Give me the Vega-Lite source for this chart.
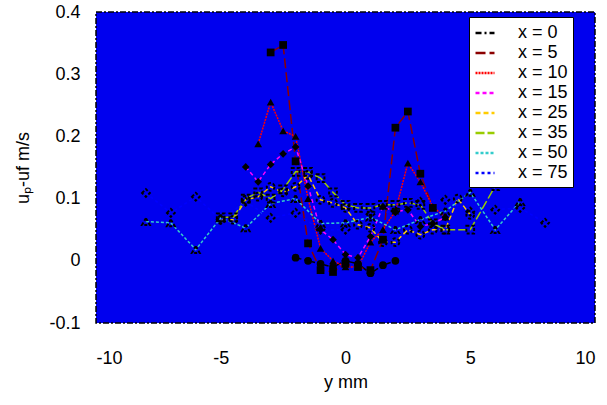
{
  "$schema": "https://vega.github.io/schema/vega-lite/v6.json",
  "width": 499,
  "height": 311,
  "autosize": {"type": "none"},
  "padding": {"left": 96, "top": 12, "right": 12, "bottom": 82},
  "config": {
    "view": {"fill": "#0000EE", "stroke": "black", "strokeDash": [6, 2, 2, 2], "strokeWidth": 1.5},
    "font": "Liberation Sans",
    "axis": {"grid": false, "ticks": false, "domain": false, "labelFont": "Liberation Sans", "titleFont": "Liberation Sans", "labelFontSize": 18, "titleFontSize": 18, "labelColor": "black", "titleColor": "black", "titleFontWeight": "normal"},
    "legend": {"labelFont": "Liberation Sans"}
  },
  "resolve": {"legend": {"shape": "independent"}, "scale": {"shape": "independent"}},
  "datasets": {
    "pts": [
      {"series": "x = 0", "pos": -2, "val": 0.005},
      {"series": "x = 0", "pos": -1.5, "val": 0.0},
      {"series": "x = 0", "pos": -1, "val": -0.005},
      {"series": "x = 0", "pos": -0.5, "val": -0.01},
      {"series": "x = 0", "pos": 0, "val": 0.0},
      {"series": "x = 0", "pos": 0.5, "val": -0.005},
      {"series": "x = 0", "pos": 1, "val": -0.02},
      {"series": "x = 0", "pos": 1.5, "val": -0.007},
      {"series": "x = 0", "pos": 2, "val": 0.0},

      {"series": "x = 5", "pos": -3, "val": 0.335},
      {"series": "x = 5", "pos": -2.5, "val": 0.347},
      {"series": "x = 5", "pos": -2, "val": 0.16},
      {"series": "x = 5", "pos": -1.5, "val": 0.028},
      {"series": "x = 5", "pos": -1, "val": -0.015},
      {"series": "x = 5", "pos": -0.5, "val": -0.018},
      {"series": "x = 5", "pos": 0, "val": -0.005},
      {"series": "x = 5", "pos": 0.5, "val": -0.01},
      {"series": "x = 5", "pos": 1, "val": -0.015},
      {"series": "x = 5", "pos": 1.5, "val": 0.034},
      {"series": "x = 5", "pos": 2, "val": 0.214},
      {"series": "x = 5", "pos": 2.5, "val": 0.24},
      {"series": "x = 5", "pos": 3, "val": 0.14},
      {"series": "x = 5", "pos": 3.5, "val": 0.085},

      {"series": "x = 10", "pos": -3.5, "val": 0.188},
      {"series": "x = 10", "pos": -3, "val": 0.255},
      {"series": "x = 10", "pos": -2.5, "val": 0.209},
      {"series": "x = 10", "pos": -2, "val": 0.2},
      {"series": "x = 10", "pos": -1.5, "val": 0.1},
      {"series": "x = 10", "pos": -1, "val": 0.02},
      {"series": "x = 10", "pos": -0.5, "val": 0.0},
      {"series": "x = 10", "pos": 0, "val": -0.01},
      {"series": "x = 10", "pos": 0.5, "val": -0.01},
      {"series": "x = 10", "pos": 1, "val": 0.03},
      {"series": "x = 10", "pos": 1.5, "val": 0.05},
      {"series": "x = 10", "pos": 2, "val": 0.08},
      {"series": "x = 10", "pos": 2.5, "val": 0.157},
      {"series": "x = 10", "pos": 3, "val": 0.127},
      {"series": "x = 10", "pos": 3.5, "val": 0.087},
      {"series": "x = 10", "pos": 4, "val": 0.07},

      {"series": "x = 15", "pos": -4, "val": 0.151},
      {"series": "x = 15", "pos": -3.5, "val": 0.127},
      {"series": "x = 15", "pos": -3, "val": 0.155},
      {"series": "x = 15", "pos": -2.5, "val": 0.172},
      {"series": "x = 15", "pos": -2, "val": 0.183},
      {"series": "x = 15", "pos": -1.5, "val": 0.12},
      {"series": "x = 15", "pos": -1, "val": 0.05},
      {"series": "x = 15", "pos": -0.5, "val": 0.034},
      {"series": "x = 15", "pos": 0, "val": 0.01},
      {"series": "x = 15", "pos": 0.5, "val": 0.005},
      {"series": "x = 15", "pos": 1, "val": 0.039},
      {"series": "x = 15", "pos": 1.5, "val": 0.087},
      {"series": "x = 15", "pos": 2, "val": 0.079},
      {"series": "x = 15", "pos": 2.5, "val": 0.082},
      {"series": "x = 15", "pos": 3, "val": 0.055},
      {"series": "x = 15", "pos": 3.5, "val": 0.06},
      {"series": "x = 15", "pos": 4, "val": 0.07},

      {"series": "x = 25", "pos": -5, "val": 0.066},
      {"series": "x = 25", "pos": -4.5, "val": 0.066},
      {"series": "x = 25", "pos": -4, "val": 0.098},
      {"series": "x = 25", "pos": -3.5, "val": 0.103},
      {"series": "x = 25", "pos": -3, "val": 0.119},
      {"series": "x = 25", "pos": -2.5, "val": 0.11},
      {"series": "x = 25", "pos": -2, "val": 0.119},
      {"series": "x = 25", "pos": -1.5, "val": 0.138},
      {"series": "x = 25", "pos": -1, "val": 0.098},
      {"series": "x = 25", "pos": -0.5, "val": 0.093},
      {"series": "x = 25", "pos": 0, "val": 0.085},
      {"series": "x = 25", "pos": 0.5, "val": 0.058},
      {"series": "x = 25", "pos": 1, "val": 0.053},
      {"series": "x = 25", "pos": 1.5, "val": 0.03},
      {"series": "x = 25", "pos": 2, "val": 0.03},
      {"series": "x = 25", "pos": 2.5, "val": 0.05},
      {"series": "x = 25", "pos": 3, "val": 0.042},
      {"series": "x = 25", "pos": 3.5, "val": 0.05},
      {"series": "x = 25", "pos": 4, "val": 0.05},
      {"series": "x = 25", "pos": 4.5, "val": 0.1},
      {"series": "x = 25", "pos": 5, "val": 0.074},

      {"series": "x = 35", "pos": -5, "val": 0.07},
      {"series": "x = 35", "pos": -4.5, "val": 0.07},
      {"series": "x = 35", "pos": -4, "val": 0.1},
      {"series": "x = 35", "pos": -3.5, "val": 0.11},
      {"series": "x = 35", "pos": -3, "val": 0.1},
      {"series": "x = 35", "pos": -2.5, "val": 0.115},
      {"series": "x = 35", "pos": -2, "val": 0.143},
      {"series": "x = 35", "pos": -1.5, "val": 0.143},
      {"series": "x = 35", "pos": -1, "val": 0.133},
      {"series": "x = 35", "pos": -0.5, "val": 0.11},
      {"series": "x = 35", "pos": 0, "val": 0.09},
      {"series": "x = 35", "pos": 0.5, "val": 0.085},
      {"series": "x = 35", "pos": 1, "val": 0.085},
      {"series": "x = 35", "pos": 1.5, "val": 0.09},
      {"series": "x = 35", "pos": 2, "val": 0.09},
      {"series": "x = 35", "pos": 2.5, "val": 0.093},
      {"series": "x = 35", "pos": 3, "val": 0.09},
      {"series": "x = 35", "pos": 3.5, "val": 0.06},
      {"series": "x = 35", "pos": 4, "val": 0.05},
      {"series": "x = 35", "pos": 5, "val": 0.05},
      {"series": "x = 35", "pos": 6, "val": 0.12},

      {"series": "x = 50", "pos": -8, "val": 0.063},
      {"series": "x = 50", "pos": -7, "val": 0.061},
      {"series": "x = 50", "pos": -6, "val": 0.018},
      {"series": "x = 50", "pos": -5, "val": 0.069},
      {"series": "x = 50", "pos": -4, "val": 0.053},
      {"series": "x = 50", "pos": -3, "val": 0.092},
      {"series": "x = 50", "pos": -2, "val": 0.1},
      {"series": "x = 50", "pos": -1, "val": 0.06},
      {"series": "x = 50", "pos": 0, "val": 0.061},
      {"series": "x = 50", "pos": 1, "val": 0.07},
      {"series": "x = 50", "pos": 2, "val": 0.05},
      {"series": "x = 50", "pos": 3, "val": 0.066},
      {"series": "x = 50", "pos": 4, "val": 0.08},
      {"series": "x = 50", "pos": 5, "val": 0.11},
      {"series": "x = 50", "pos": 6, "val": 0.05},
      {"series": "x = 50", "pos": 7, "val": 0.095},

      {"series": "x = 75", "pos": -8, "val": 0.109},
      {"series": "x = 75", "pos": -7, "val": 0.077},
      {"series": "x = 75", "pos": -6, "val": 0.103},
      {"series": "x = 75", "pos": -5, "val": 0.066},
      {"series": "x = 75", "pos": -4, "val": 0.095},
      {"series": "x = 75", "pos": -3, "val": 0.069},
      {"series": "x = 75", "pos": -2, "val": 0.077},
      {"series": "x = 75", "pos": -1, "val": 0.05},
      {"series": "x = 75", "pos": 0, "val": 0.05},
      {"series": "x = 75", "pos": 1, "val": 0.075},
      {"series": "x = 75", "pos": 2, "val": 0.08},
      {"series": "x = 75", "pos": 3, "val": 0.095},
      {"series": "x = 75", "pos": 4, "val": 0.098},
      {"series": "x = 75", "pos": 5, "val": 0.079},
      {"series": "x = 75", "pos": 6, "val": 0.082},
      {"series": "x = 75", "pos": 7, "val": 0.085},
      {"series": "x = 75", "pos": 8, "val": 0.061}
    ]
  },
  "layer": [
    {
      "mark": {"type": "rule", "color": "black", "strokeDash": [8, 3, 2, 3], "strokeWidth": 1.5},
      "encoding": {"x": {"datum": 0, "type": "quantitative"}}
    },
    {
      "mark": {"type": "rule", "color": "black", "strokeDash": [8, 3, 2, 3], "strokeWidth": 1.5},
      "encoding": {"y": {"datum": 0, "type": "quantitative"}}
    },
    {
      "data": {"name": "pts"},
      "mark": {"type": "line", "strokeWidth": 1.5},
      "encoding": {
        "x": {"field": "pos", "type": "quantitative", "scale": {"domain": [-10, 10], "nice": false}, "axis": {"values": [-10, -5, 0, 5, 10], "title": "y  mm", "labelPadding": 26, "titlePadding": 6, "labelExpr": "replace(format(datum.value, 'd'), '\u2212', '-')"}},
        "y": {"field": "val", "type": "quantitative", "scale": {"domain": [-0.1, 0.4], "nice": false, "zero": false}, "axis": {"values": [-0.1, 0, 0.1, 0.2, 0.3, 0.4], "title": "uₚ-uf  m/s", "labelPadding": 16, "titlePadding": 16, "labelExpr": "datum.value == 0 ? '0' : replace(format(datum.value, '.1f'), '\u2212', '-')"}},
        "color": {"field": "series", "type": "nominal", "scale": {"domain": ["x = 0", "x = 5", "x = 10", "x = 15", "x = 25", "x = 35", "x = 50", "x = 75"], "range": ["#000000", "#8B0000", "#FF0000", "#FF00FF", "#FFCC00", "#99CC00", "#33CCCC", "#0000FF"]},
          "legend": {"title": null, "orient": "none", "legendX": 373, "legendY": 5, "fillColor": "white", "strokeColor": "black", "padding": 5, "labelFontSize": 18, "labelColor": "black", "symbolType": "stroke", "symbolSize": 360, "symbolStrokeWidth": 2.5, "rowPadding": 0, "labelOffset": 22}},
        "strokeDash": {"field": "series", "type": "nominal", "scale": {"domain": ["x = 0", "x = 5", "x = 10", "x = 15", "x = 25", "x = 35", "x = 50", "x = 75"], "range": [[6, 3, 2, 3], [10, 4], [2, 1], [4, 3], [5, 3], [9, 3], [3, 2], [3, 3]]}},
        "order": {"field": "pos", "type": "quantitative"}
      }
    },
    {
      "data": {"name": "pts"},
      "transform": [{"filter": {"field": "series", "oneOf": ["x = 0", "x = 5", "x = 10", "x = 15"]}}],
      "mark": {"type": "point", "filled": true, "color": "black", "size": 60, "opacity": 1},
      "encoding": {
        "x": {"field": "pos", "type": "quantitative"},
        "y": {"field": "val", "type": "quantitative"},
        "shape": {"field": "series", "type": "nominal", "scale": {"domain": ["x = 0", "x = 5", "x = 10", "x = 15"], "range": ["circle", "square", "triangle-up", "diamond"]}, "legend": null}
      }
    },
    {
      "data": {"name": "pts"},
      "transform": [{"filter": {"field": "series", "oneOf": ["x = 25", "x = 35", "x = 50", "x = 75"]}}],
      "mark": {"type": "point", "filled": false, "color": "black", "size": 60, "strokeWidth": 2, "opacity": 1, "strokeDash": [3, 2]},
      "encoding": {
        "x": {"field": "pos", "type": "quantitative"},
        "y": {"field": "val", "type": "quantitative"},
        "shape": {"field": "series", "type": "nominal", "scale": {"domain": ["x = 25", "x = 35", "x = 50", "x = 75"], "range": ["circle", "square", "triangle-up", "diamond"]}, "legend": null}
      }
    },
    {
      "mark": {"type": "text", "align": "left", "baseline": "middle", "fontSize": 17, "color": "black", "font": "Liberation Sans"},
      "encoding": {"x": {"datum": -9.35, "type": "quantitative"}, "y": {"datum": 0.366, "type": "quantitative"}, "text": {"value": "D = 5mm"}}
    }
  ]
}
